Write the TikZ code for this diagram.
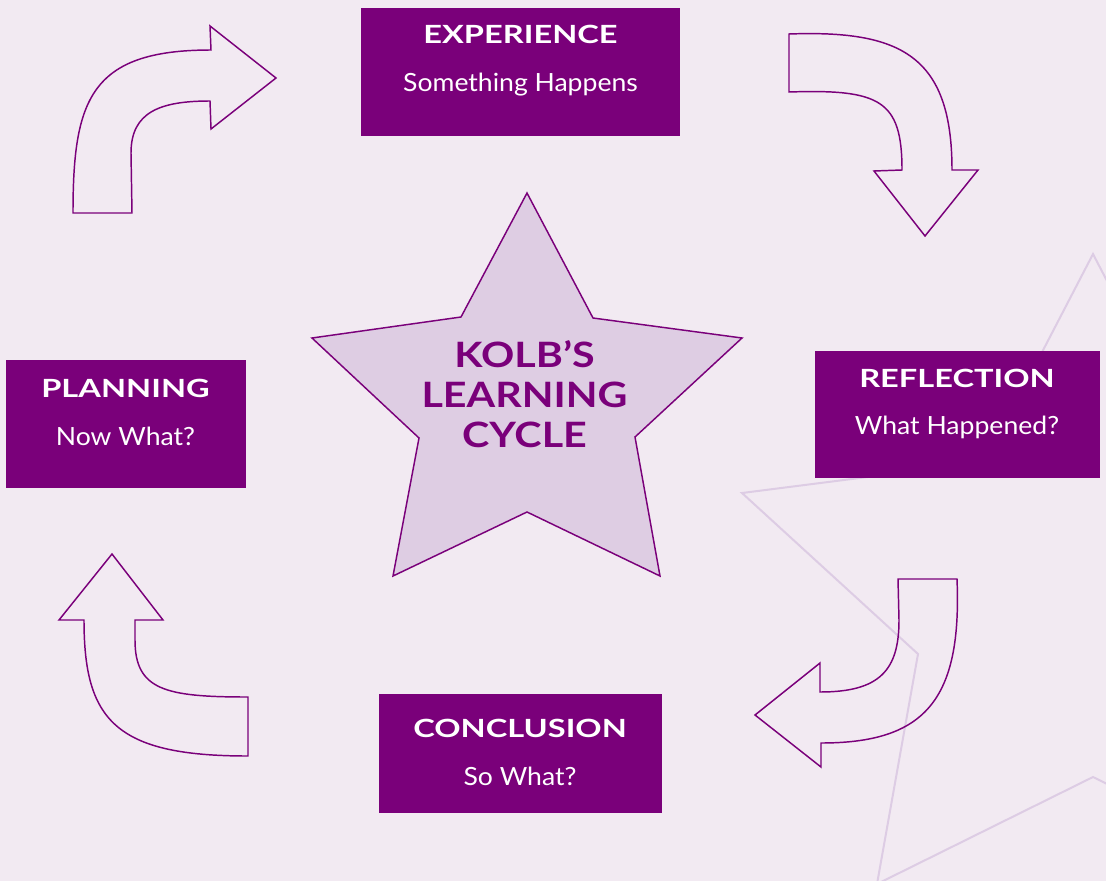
\documentclass[tikz,border=0pt]{standalone}
\usepackage{fontspec}
\setmainfont{Lato}
\newfontfamily\headfont{Lato}[FakeStretch=1.3]
\newfontfamily\subfont{Lato}[FakeStretch=1.06]
\newfontfamily\starfont{Lato}[FakeStretch=1.18]

\definecolor{kolbpurple}{RGB}{122,0,122}
\definecolor{kolbback}{RGB}{242,234,242}
\definecolor{kolbstar}{RGB}{222,205,227}
\definecolor{kolbfaint}{RGB}{221,204,228}

\tikzset{every picture/.style={line width=0.75pt}}
\tikzset{
  stagebox/.style={fill=kolbpurple, draw=none, inner sep=0pt},
  stagehead/.style={anchor=base, inner sep=0.75pt, text=white, font=\headfont\bfseries\fontsize{18.8pt}{22pt}\selectfont},
  stagesub/.style={anchor=base, inner sep=0.75pt, text=white, font=\subfont\fontsize{18.8pt}{22pt}\selectfont},
  starlabel/.style={anchor=base, inner sep=0.75pt, text=kolbpurple, font=\starfont\bfseries\fontsize{26.2pt}{30pt}\selectfont},
  bentarrow/.style={draw=kolbpurple, line width=1.1pt, line join=miter},
}

\begin{document}
\begin{tikzpicture}[x=0.75pt,y=0.75pt,yscale=-1,xscale=1]
        %Background
        \fill[kolbback] (0,0) rectangle (1106,881);
        \useasboundingbox (0,0) rectangle (1106,881);

        %Shape: Star (faint, behind) [clipped to the page]
        \begin{scope}
        \clip (0,0) rectangle (1106,881);
        \draw [kolbfaint, line width=1.5pt, line join=miter] (1093,254) -- (985,462) -- (742,493) -- (918,654) -- (877,884) -- (1093,777) -- (1309,884) -- (1268,654) -- (1444,493) -- (1201,462) -- cycle ;
        \end{scope}

        %Shape: Star
        \draw [draw=kolbpurple, fill=kolbstar, line width=1.1pt, line join=miter] (527,193) -- (593,318) -- (742,338) -- (635,437) -- (660,576) -- (527,512) -- (393,576) -- (419,438) -- (312,338) -- (461,317) -- cycle ;

        %Shape: Rectangle
        \node [stagebox, minimum width=239.25pt, minimum height=96pt] (experience) at (520.5,72) {};
        %Shape: Rectangle
        \node [stagebox, minimum width=213.75pt, minimum height=95.25pt] (reflection) at (957.5,414.5) {};
        %Shape: Rectangle
        \node [stagebox, minimum width=212.25pt, minimum height=88.9pt] (conclusion) at (520.5,753.25) {};
        %Shape: Rectangle
        \node [stagebox, minimum width=180pt, minimum height=96pt] (planning) at (126,424) {};

        %Curved Arrow [planning to experience]
        \draw [bentarrow] (73,213) -- (132,213) -- (131,153) .. controls (131,112) and (160,101) .. (210,101) -- (211,129) -- (276,78) -- (210,26) -- (211,50) .. controls (90,50) and (73,100) .. (73,213) -- cycle ;
        %Curved Arrow [experience to reflection]
        \draw [bentarrow] (789,34) .. controls (900,30) and (952,55) .. (952,170) -- (978,170) -- (925,236) -- (874,171) -- (902,170) .. controls (902,100) and (880,89) .. (789,92) -- cycle ;
        %Curved Arrow [reflection to conclusion]
        \draw [bentarrow] (898,579) -- (957,579) .. controls (962,700) and (925,743) .. (821,743) -- (821,767) -- (755,715) -- (820,663) -- (820,692) .. controls (880,692) and (899,670) .. (899,620) -- cycle ;
        %Curved Arrow [conclusion to planning]
        \draw [bentarrow] (248,756) .. controls (115,756) and (84,720) .. (84,620) -- (59,620) -- (112,554) -- (163,620) -- (135,620) -- (135,640) .. controls (135,690) and (165,697) .. (248,697) -- cycle ;

        % Text Node
        \node [stagehead] (experiencehead) at (520.5,44) {EXPERIENCE};
        % Text Node
        \node [stagesub] (experiencesub) at (520.5,92) {Something Happens};
        % Text Node
        \node [stagehead] (reflectionhead) at (957,387) {REFLECTION};
        % Text Node
        \node [stagesub] (reflectionsub) at (957,434) {What Happened?};
        % Text Node
        \node [stagehead] (conclusionhead) at (520,737) {CONCLUSION};
        % Text Node
        \node [stagesub] (conclusionsub) at (520,785) {So What?};
        % Text Node
        \node [stagehead] (planninghead) at (125.5,397) {PLANNING};
        % Text Node
        \node [stagesub] (planningsub) at (125.5,445) {Now What?};

        % Text Node
        \node [starlabel] (kolbline) at (524.5,367) {KOLB’S};
        % Text Node
        \node [starlabel] (learningline) at (524.5,407) {LEARNING};
        % Text Node
        \node [starlabel] (cycleline) at (524.5,447) {CYCLE};

\end{tikzpicture}
\end{document}
